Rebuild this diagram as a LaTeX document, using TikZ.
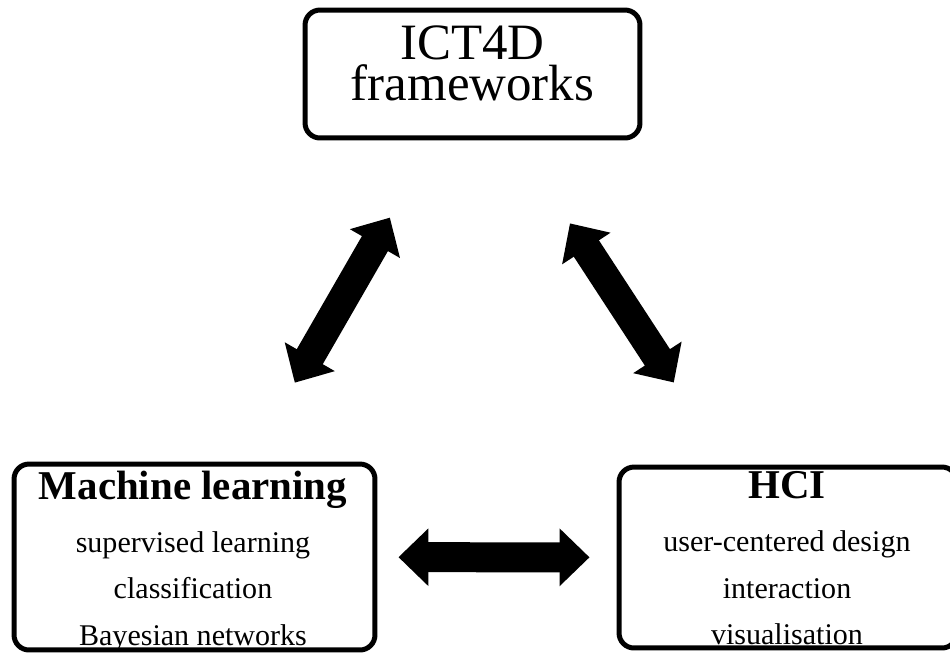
\documentclass[tikz,border=0pt]{standalone}
\usepackage{fontspec}
\setmainfont{Liberation Serif}
\usetikzlibrary{arrows.meta}

\begin{document}
\begin{tikzpicture}[x=0.02cm, y=-0.02cm,
    box/.style={draw, line width=0.1cm, rounded corners=0.3cm, inner sep=0pt},
    boxtext/.style={inner sep=0pt, anchor=north, align=center},
    bigarrow/.style={line width=0.6cm,
      {Triangle[length=0.6cm,width=1.12cm]}-{Triangle[length=0.6cm,width=1.12cm]}}]
    \useasboundingbox (0,0) rectangle (950,654);

      % Boxes
      \node[box, minimum width=6.7cm, minimum height=2.56cm] (ict) at (472.5,74) {};
      \node[box, minimum width=7.22cm, minimum height=3.72cm] (ml) at (194.5,557) {};
      \node[box, minimum width=6.76cm, minimum height=3.62cm] (hci) at (788,557.5) {};

      % Texts
      \node[boxtext, font=\fontsize{29}{23.5}\selectfont] (ict-text) at (472.5,25)
        {ICT4D\\frameworks};
      \node[boxtext, font=\fontsize{17.1}{26.5}\selectfont] (ml-text) at (193,470.3)
        {{\fontsize{23.3}{26.5}\selectfont\bfseries Machine learning}\\[3.7pt]
         supervised learning\\ classification\\ Bayesian networks};
      \node[boxtext, font=\fontsize{17.1}{26.5}\selectfont] (hci-text) at (787,471)
        {{\fontsize{23.3}{26.5}\selectfont\bfseries HCI}\\[3.7pt]
         user-centered design\\ interaction\\ visualisation};

      % Arrows
      \draw[bigarrow, shorten <=1.82cm, shorten >=1.78cm] (ml) -- (ict);
      \draw[bigarrow, shorten <=1.96cm, shorten >=1.98cm] (hci) -- (ict);
      \draw[bigarrow, shorten <=0.42cm, shorten >=0.54cm] (ml) -- (hci);
\end{tikzpicture}
\end{document}
